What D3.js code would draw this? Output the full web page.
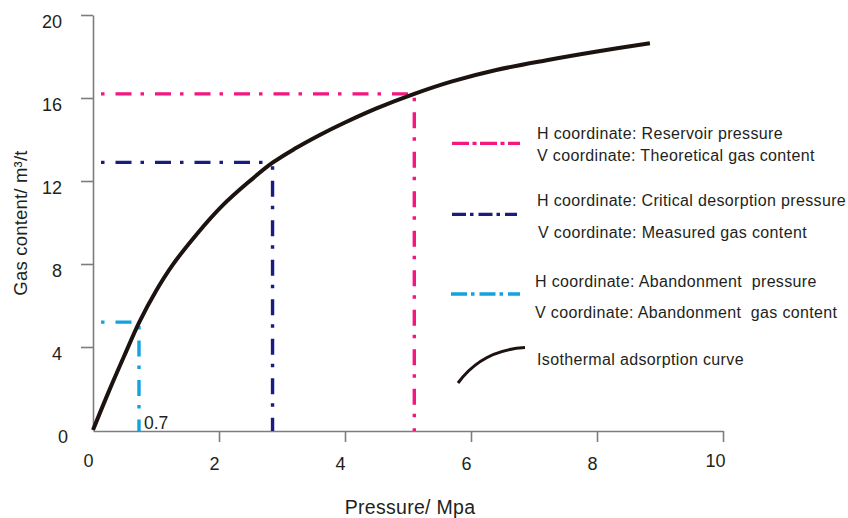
<!DOCTYPE html>
<html>
<head>
<meta charset="utf-8">
<script src="https://cdn.jsdelivr.net/npm/d3@7/dist/d3.min.js"></script>
<style>
  html, body { margin: 0; padding: 0; background: #fff; }
  svg { display: block; font-family: "Liberation Sans", Arial, Helvetica, sans-serif; }
</style>
</head>
<body>
<svg id="chart" width="848" height="518"></svg>
<script>
// ---- data ----
const curvePressure = [0, 0.25, 0.5, 0.735, 1.0, 1.27, 1.65, 2.05, 2.45, 2.85, 3.2, 3.6, 4.0, 4.5, 5.1, 5.7, 6.4, 7.2, 8.0, 8.84];
const curveGas      = [0, 1.85, 3.6, 5.2, 6.7, 7.98, 9.45, 10.8, 11.9, 12.88, 13.55, 14.22, 14.82, 15.5, 16.2, 16.8, 17.35, 17.82, 18.24, 18.64];

const refNames    = ["reservoir", "critical", "abandonment"];
const refPressure = [5.1, 2.85, 0.73];
const refGas      = [16.2, 12.9, 5.2];
const refColors   = ["#f5167f", "#1b1c80", "#12a2df"];

const xTickValues = [0, 2, 4, 6, 8, 10];
const yTickValues = [0, 4, 8, 12, 16, 20];

const legendLines = [
  ["H coordinate: Reservoir pressure", "V coordinate: Theoretical gas content"],
  ["H coordinate: Critical desorption pressure", "V coordinate: Measured gas content"],
  ["H coordinate: Abandonment  pressure", "V coordinate: Abandonment  gas content"]
];
const curveLegendLabel = "Isothermal adsorption curve";
const abandonLabel = "0.7";
const xTitle = "Pressure/ Mpa";
const yTitle = "Gas content/ m³/t";

// ---- drawing ----
const svg = d3.select("#chart");
const textColor = "#231f20";
const axisColor = "#7d7d7d";

const x = d3.scaleLinear().domain([0, 10]).range([93, 723]);
const y = d3.scaleLinear().domain([0, 20]).range([430, 15]);

// x axis
const xAxis = svg.append("g")
  .attr("transform", "translate(0,431)")
  .call(d3.axisBottom(x).tickValues(xTickValues).tickSize(11).tickSizeOuter(0).tickPadding(16).tickFormat(d3.format("d")));
xAxis.select(".domain").attr("stroke", axisColor).attr("stroke-width", 1.6);
xAxis.selectAll(".tick line").attr("stroke", axisColor).attr("stroke-width", 1.6)
  .attr("y2", d => d === 0 ? 0 : 11);
xAxis.selectAll(".tick text").attr("fill", textColor).attr("font-size", 18)
  .attr("font-family", "Liberation Sans, Arial, sans-serif")
  .attr("dx", d => d === 10 ? -8 : -5)
  .attr("dy", d => (d === 10 || d === 0) ? "0.5em" : "0.68em");

// y axis
const yAxis = svg.append("g")
  .attr("transform", "translate(93,0)")
  .call(d3.axisLeft(y).tickValues(yTickValues).tickSize(12).tickSizeOuter(0).tickPadding(19).tickFormat(d3.format("d")));
yAxis.select(".domain").attr("stroke", axisColor).attr("stroke-width", 1.6);
yAxis.selectAll(".tick line").attr("stroke", axisColor).attr("stroke-width", 1.6)
  .attr("x2", d => d === 0 ? 0 : -12);
yAxis.selectAll(".tick text").attr("fill", textColor).attr("font-size", 18)
  .attr("font-family", "Liberation Sans, Arial, sans-serif")
  .attr("dy", "0.7em")
  .attr("dx", d => d === 0 ? 6 : 0);

// axis titles
svg.append("text")
  .attr("x", 410).attr("y", 514)
  .attr("text-anchor", "middle")
  .attr("font-size", 19.5).attr("letter-spacing", 0.3).attr("fill", textColor)
  .text(xTitle);

svg.append("text")
  .attr("transform", "translate(27,223) rotate(-90)")
  .attr("text-anchor", "middle")
  .attr("font-size", 18.5).attr("letter-spacing", 0.2).attr("fill", textColor)
  .text(yTitle);

// reference dash-dot lines
const chartDash = "16,9,3.5,11";
refNames.forEach((name, i) => {
  const g = svg.append("g").attr("class", "ref " + name);
  g.append("line")
    .attr("x1", x(0) + 4).attr("x2", x(refPressure[i]))
    .attr("y1", y(refGas[i])).attr("y2", y(refGas[i]))
    .attr("stroke", refColors[i]).attr("stroke-width", 3.4)
    .attr("stroke-dasharray", chartDash).attr("stroke-dashoffset", 21);
  g.append("line")
    .attr("x1", x(refPressure[i])).attr("x2", x(refPressure[i]))
    .attr("y1", y(refGas[i])).attr("y2", 431)
    .attr("stroke", refColors[i]).attr("stroke-width", 3.4)
    .attr("stroke-dasharray", chartDash).attr("stroke-dashoffset", 21);
});

// isothermal adsorption curve
const curveData = curvePressure.map((p, i) => [p, curveGas[i]]);
svg.append("path")
  .datum(curveData)
  .attr("fill", "none")
  .attr("stroke", "#1c1311")
  .attr("stroke-width", 4)
  .attr("stroke-linecap", "butt")
  .attr("d", d3.line().x(d => x(d[0])).y(d => y(d[1])).curve(d3.curveCatmullRom.alpha(0.5)));

// 0.7 label
svg.append("text")
  .attr("x", 144).attr("y", 429)
  .attr("font-size", 17.5).attr("fill", textColor)
  .text(abandonLabel);

// legend
const legendDash = ["17,3.5,4,3.5", "14,4,3.5,5", "16,4,3.5,5"];
const legendLineY = [143.3, 214.3, 294];
const legendLineX = [[452, 520], [452, 517], [451, 520]];
const legendTextY = [[133.3, 155.5], [200, 232], [281, 312]];
const legendTextX = [[537, 537], [537, 538], [535, 535]];
legendLines.forEach((lines, i) => {
  svg.append("line")
    .attr("x1", legendLineX[i][0]).attr("x2", legendLineX[i][1])
    .attr("y1", legendLineY[i]).attr("y2", legendLineY[i])
    .attr("stroke", refColors[i]).attr("stroke-width", 3.3)
    .attr("stroke-dasharray", legendDash[i]);
  lines.forEach((t, j) => {
    svg.append("text")
      .attr("x", legendTextX[i][j]).attr("y", legendTextY[i][j])
      .attr("dy", "0.36em")
      .attr("font-size", 16).attr("letter-spacing", 0.35).attr("fill", textColor)
      .style("white-space", "pre")
      .attr("xml:space", "preserve")
      .text(t);
  });
});

// curve legend glyph
const glyph = d3.path();
glyph.moveTo(458, 383);
glyph.quadraticCurveTo(482, 350, 525, 347.5);
svg.append("path")
  .attr("d", glyph.toString())
  .attr("fill", "none").attr("stroke", "#1c1311").attr("stroke-width", 3);
svg.append("text")
  .attr("x", 537).attr("y", 359).attr("dy", "0.36em")
  .attr("font-size", 16).attr("letter-spacing", 0.35).attr("fill", textColor)
  .text(curveLegendLabel);
</script>
</body>
</html>
